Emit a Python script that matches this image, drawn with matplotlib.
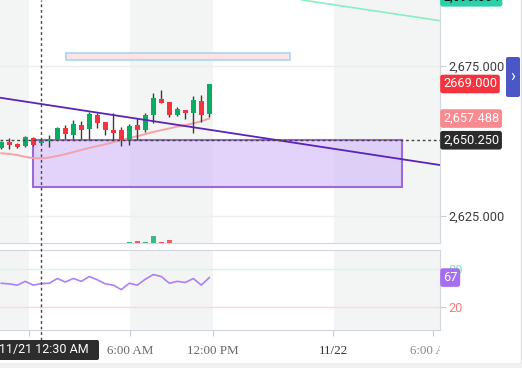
#!/usr/bin/env python3
import matplotlib
matplotlib.use("Agg")
import matplotlib.pyplot as plt
from matplotlib.patches import Rectangle, FancyBboxPatch
from matplotlib.lines import Line2D
from matplotlib.transforms import Bbox, IdentityTransform

plt.rcParams['font.family'] = ['Roboto', 'DejaVu Sans']

# ============================================================
# Data (30 min candles, index based x axis)
# ============================================================
opens = [2647.6, 2649.8, 2649.0, 2648.3, 2650.9, 2649.2, 2650.0, 2650.3, 2654.2,
         2652.0, 2655.3, 2654.0, 2658.7, 2656.3, 2653.7, 2653.7, 2650.3, 2655.2,
         2653.7, 2658.7, 2664.0, 2663.0, 2658.7, 2660.3, 2659.4, 2663.3, 2659.0]
highs = [2650.1, 2650.9, 2649.4, 2651.7, 2651.2, 2650.4, 2652.0, 2654.8, 2655.3,
         2657.0, 2656.7, 2659.8, 2659.4, 2656.3, 2659.4, 2654.8, 2655.7, 2657.6,
         2659.2, 2665.9, 2667.0, 2663.0, 2661.2, 2660.3, 2665.0, 2665.4, 2669.0]
lows = [2647.2, 2647.2, 2647.6, 2647.9, 2648.3, 2648.9, 2647.9, 2650.3, 2650.6,
        2650.6, 2650.6, 2650.6, 2654.2, 2652.0, 2650.3, 2648.3, 2648.7, 2650.3,
        2653.1, 2655.9, 2662.6, 2658.1, 2658.3, 2657.2, 2652.8, 2656.4, 2657.9]
closes = [2649.8, 2648.7, 2648.1, 2651.2, 2648.7, 2650.1, 2650.6, 2654.2, 2652.3,
          2655.7, 2653.7, 2659.0, 2656.1, 2653.7, 2652.8, 2650.3, 2655.0, 2653.7,
          2658.7, 2664.4, 2662.6, 2658.7, 2660.7, 2659.4, 2663.7, 2658.7, 2669.0]
ma_vals = [2645.9, 2645.7, 2645.3, 2644.7, 2644.3, 2644.2, 2644.5, 2645.0, 2645.6,
           2646.3, 2647.0, 2647.7, 2648.3, 2648.9, 2649.6, 2650.3, 2651.0, 2651.6,
           2652.3, 2653.0, 2653.6, 2654.2, 2654.8, 2655.3, 2655.9, 2656.6, 2657.5]
volumes = [0, 0, 0, 0, 0, 0, 0, 0, 0, 0, 8, 8, 0, 0, 8, 8, 35, 55,
           35, 210, 35, 100, 0, 0, 0, 0, 0]
rsi_vals = [58, 57, 55, 61, 55, 57.5, 58, 65.5, 60, 65.5, 61, 68.6, 63.5, 57,
            55, 48, 58, 55, 64.4, 71.8, 68.6, 58, 61, 59.2, 65.5, 55, 67]

# session shading and time ticks (in candle index units)
shade_spans = [(-1.0, 3.46), (16.09, 26.46), (41.59, 60.0)]
tick_pos = [3.46, 16.09, 26.46, 41.46, 53.96]
tick_labels = ["", "6:00 AM", "12:00 PM", "11/22", "6:00 AM"]
tick_colors = ["#555555", "#666666", "#666666", "#333333", "#888888"]

price_ticks = [2625, 2675]
last_price = 2669.0
ma_last = 2657.488
cross_price = 2650.25
cross_idx = 5.0
cross_label = "11/21 12:30 AM"
top_line_label = "2,690.004"
top_line_badge_y = 2697.9
rsi_last = 67

zone = (4.0, 50.05, 2634.67, 2650.25)        # x0, x1, y0, y1
thin_box = (8.05, 36.1, 2676.9, 2679.4)
trend_pts = [(0, 2664.36), (50, 2643.96)]
green_pts = [(37.6, 2697.0), (54.84, 2690.1)]

UP = "#0bab64"
DOWN = "#f5333f"
SHADE = "#f3f5f4"
SPINE = "#d3d6dd"
XLIM = (-0.1625, 54.8375)

idx = list(range(len(opens)))

fig = plt.figure(figsize=(5.22, 3.68), dpi=100)
ax = fig.add_axes([0, 0.3397, 0.8429, 0.6603])
rax = fig.add_axes([0, 0.10326, 0.8429, 0.2174])

# volume overlay (made first, twinx resets tick sides of ax)
vax = ax.twinx()

# ============================================================
# Main price panel
# ============================================================
for a, b in shade_spans:
    ax.axvspan(a, b, color=SHADE, lw=0, zorder=0)
for p in price_ticks:
    ax.axhline(p, color="#eceef0", lw=1, zorder=0.5)

ax.add_patch(Rectangle((thin_box[0], thin_box[2]), thin_box[1] - thin_box[0],
                       thin_box[3] - thin_box[2], fc="#fde2e6", ec="#a3d8f2",
                       lw=1.2, zorder=2))
ax.add_patch(Rectangle((zone[0], zone[2]), zone[1] - zone[0], zone[3] - zone[2],
                       fc="#d4bcfa", alpha=0.65, ec="none", zorder=1))
ax.add_patch(Rectangle((zone[0], zone[2]), zone[1] - zone[0], zone[3] - zone[2],
                       fc="none", ec="#9a6ad8", lw=1.5, zorder=1.1))

ax.plot(idx, ma_vals, color="#f4a2a9", lw=1.4, zorder=2)

colors = [UP if c >= o else DOWN for o, c in zip(opens, closes)]
ax.vlines(idx, lows, highs, color="#3a3a3a", lw=1, zorder=3)
bottoms = [min(o, c) for o, c in zip(opens, closes)]
heights = [max(abs(c - o), 0.3) for o, c in zip(opens, closes)]
ax.bar(idx, heights, bottom=bottoms, width=0.64, color=colors, zorder=4)

ax.axline(trend_pts[0], trend_pts[1], color="#5a24b8", lw=1.3, zorder=5)
ax.axline(green_pts[0], green_pts[1], color="#86f0c4", lw=1.2, zorder=5)
ax.axhline(cross_price, color="#444444", lw=1, ls=(0, (2, 2)), zorder=6)

ax.set_xlim(*XLIM)
ax.set_ylim(2616, 2697)
ax.set_xticks([])
ax.yaxis.tick_right()
ax.set_yticks(price_ticks)
ax.set_yticklabels([f"{p:,.3f}" for p in price_ticks])
ax.tick_params(axis="y", length=4, color="#c8ccd4", labelcolor="#3d3d3d",
               labelsize=9.2, pad=2)
for s in ["top", "left"]:
    ax.spines[s].set_visible(False)
for s in ["right", "bottom"]:
    ax.spines[s].set_color(SPINE)

vax.bar(idx, volumes, width=0.6, color=colors, alpha=0.8, zorder=1)
vax.set_ylim(0, 7290)
vax.set_xlim(*XLIM)
vax.set_yticks([])
for s in vax.spines.values():
    s.set_visible(False)


def price_badge(axis, y, text, fc, tc="white"):
    axis.annotate(text, xy=(1.0, y), xycoords=axis.get_yaxis_transform(),
                  xytext=(3, 0), textcoords="offset pixels", ha="left",
                  va="center", fontsize=9.2, color=tc, zorder=10,
                  annotation_clip=False,
                  bbox=dict(boxstyle="round,pad=0.22,rounding_size=0.2",
                            fc=fc, ec="none"))


price_badge(ax, top_line_badge_y, top_line_label, "#2ad1a8", "#111111")
price_badge(ax, last_price, f"{last_price:.3f}", "#f5333f")
price_badge(ax, ma_last, f"{ma_last:,.3f}", "#f98a90")
price_badge(ax, cross_price, f"{cross_price:,.3f}", "#2b2b2b")

# ============================================================
# RSI panel
# ============================================================
for a, b in shade_spans:
    rax.axvspan(a, b, color=SHADE, lw=0, zorder=0)
rax.axhline(80, color="#d8f2ea", lw=1, zorder=1)
rax.axhline(20, color="#f6d9df", lw=1, zorder=1)
rax.plot(idx, rsi_vals, color="#b07ff5", lw=1.2, zorder=3)

rax.set_xlim(*XLIM)
rax.set_ylim(-15.8, 110.5)
rax.yaxis.tick_right()
rax.set_yticks([20, 80])
rax.set_yticklabels(["20", "80"])
rax.tick_params(axis="y", length=4, color="#c8ccd4", labelsize=9.2, pad=2)
rax.get_yticklabels()[0].set_color("#f77b7b")
rax.get_yticklabels()[1].set_color("#7de8b5")
price_badge(rax, rsi_last, str(rsi_last), "#a66ff2")

rax.set_xticks(tick_pos)
rax.set_xticklabels(tick_labels)
rax.tick_params(axis="x", length=4, color="#c8ccd4", labelsize=9.4, pad=7)
clip = Bbox.from_extents(0, 0, 440, 368)
for lbl, col in zip(rax.get_xticklabels(), tick_colors):
    lbl.set_fontfamily("Liberation Serif")
    lbl.set_color(col)
    lbl.set_clip_box(clip)
    lbl.set_clip_on(True)
rax.spines["left"].set_visible(False)
for s in ["right", "bottom", "top"]:
    rax.spines[s].set_color(SPINE)

# ============================================================
# Crosshair + chrome (pixel coordinates)
# ============================================================
px = IdentityTransform()
cross_x = 1.3 + 8 * cross_idx
fig.add_artist(Line2D([cross_x, cross_x], [28, 368], transform=px,
                      color="#444444", lw=1, ls=(0, (2, 2)), zorder=6))
fig.add_artist(FancyBboxPatch((-11, 8), 110, 20, transform=px,
                              boxstyle="round,pad=0,rounding_size=2",
                              fc="#2d2d2d", ec="none", zorder=7))
fig.text(44, 18, cross_label, transform=px, ha="center", va="center",
         color="white", fontsize=9, zorder=8)

fig.add_artist(Rectangle((0, 0), 522, 5, transform=px, fc="#f0f0f0",
                         ec="none", zorder=1))
fig.add_artist(Line2D([520.5, 520.5], [5, 368], transform=px,
                      color="#e2e2e2", lw=1))
fig.add_artist(FancyBboxPatch((506, 271), 14, 40, transform=px,
                              boxstyle="round,pad=0,rounding_size=2",
                              fc="#4b57c5", ec="none", zorder=7))
fig.text(513, 291, "›", transform=px, ha="center", va="center",
         color="white", fontsize=12, zorder=8)

fig.savefig("out.png", dpi=100)
